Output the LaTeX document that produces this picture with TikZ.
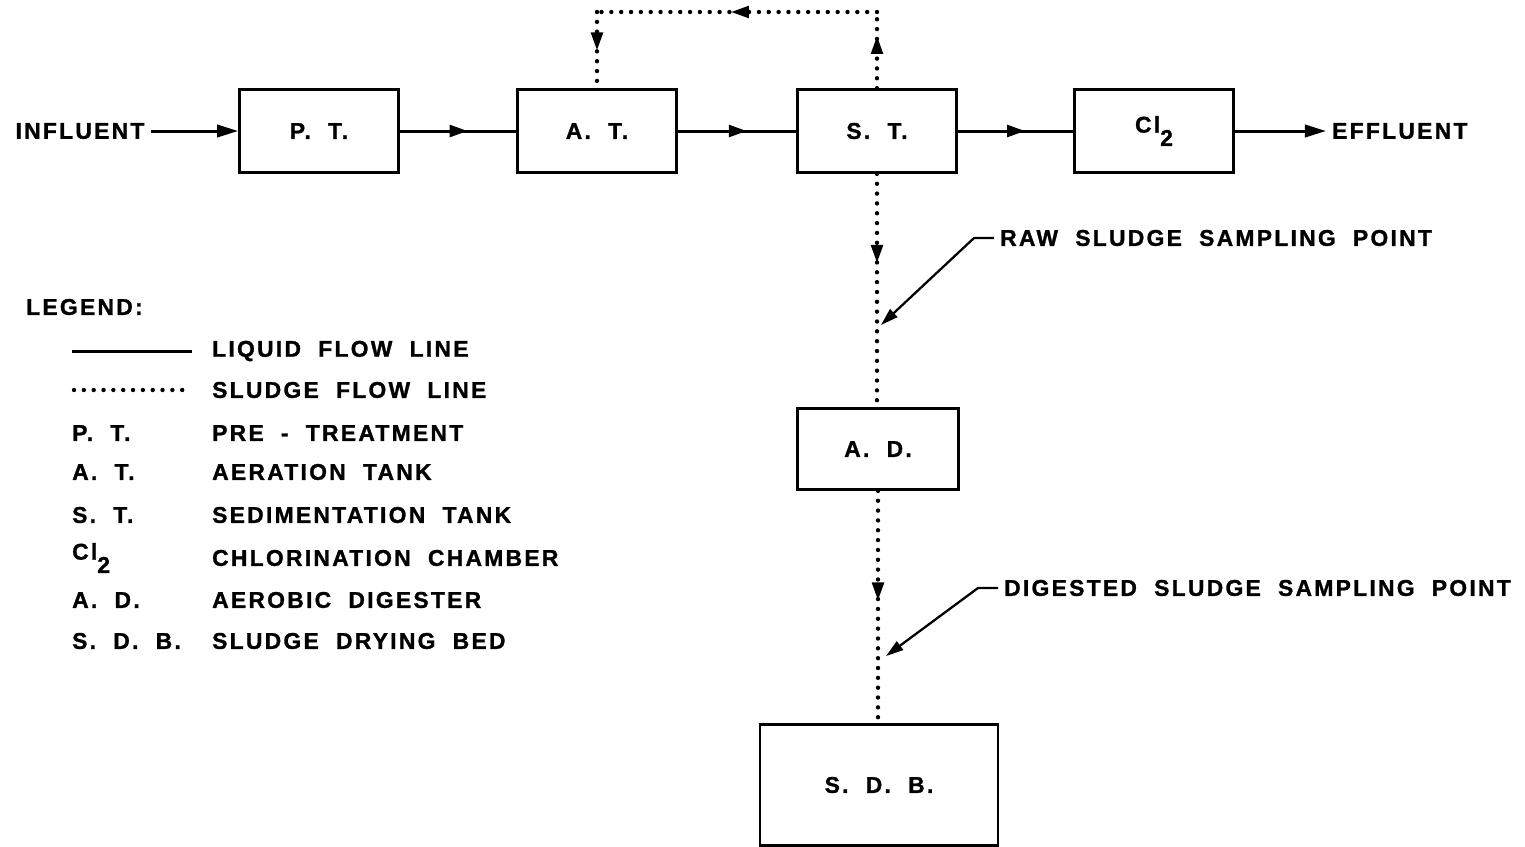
\documentclass[tikz,border=0pt]{standalone}
\usepackage{fontspec}
\setmainfont{Liberation Sans}[LetterSpace=10,WordSpace=2,BoldFeatures={FakeBold=1.2}]
\usetikzlibrary{arrows.meta,decorations.markings,calc}
\newcommand{\chlor}{Cl\raisebox{-1.1ex}{2}}
\tikzset{
  tank/.style={
    draw,
    line width = 1.6pt,
    inner sep = 0pt,
    minimum width = 3.18cm,
    minimum height = 1.66cm
  },
  liquid/.style={
    line width = 1.7pt
  },
  sludge/.style={
    line width = 2.5pt,
    line cap = round,
    dash pattern = on 0pt off 5.6pt
  },
  midarrow/.style={
    postaction={decorate},
    decoration={markings,
      mark=at position #1 with {
        \draw[solid,line width=1.3pt] (-9pt,0) -- (-2pt,0);
        \arrow[solid,line width=0.8pt]{Triangle[length=10pt,width=7pt]}
      }
    }
  },
  every picture/.style = {
    x = 0.02cm,
    y = -0.02cm,
    font = \fontsize{13}{15}\selectfont\bfseries
  }
}

\begin{document}
\begin{tikzpicture}
    \useasboundingbox (0,0) rectangle (1525,846);
    % process line
    \node[tank] (pt) at (319,131) {P. T.};
    \node[tank] (at) at (597,131) {A. T.};
    \node[tank] (st) at (877,131) {S. T.};
    \node[tank] (cl) at (1154,131) {\chlor};
    \node[tank, minimum width=3.22cm, minimum height=1.62cm] (ad) at (878,449) {A. D.};
    \node[tank, minimum width=4.76cm, minimum height=2.42cm] (sdb) at (879,785) {S. D. B.};
    \node (influent) at (80,131) {INFLUENT};
    \node[anchor=west] (effluent) at (1326,131) {EFFLUENT};
    \draw[liquid, -{Triangle[length=12pt,width=7pt]}] (influent.east) -- (pt.west);
    \foreach \a/\b in {pt/at,at/st,st/cl}{
        \draw[liquid, midarrow=0.58] (\a.east) -- (\b.west);
    }
    \draw[liquid, -{Triangle[length=12pt,width=7pt]}] (cl.east) -- (effluent.west);
    % sludge return and waste
    \coordinate (loopR) at (st.north |- 0,12);
    \coordinate (loopL) at (at.north |- 0,12);
    \draw[sludge, midarrow=0.68] (st.north) -- (loopR);
    \draw[sludge, midarrow=0.52] (loopR) -- (loopL);
    \draw[sludge, midarrow=0.5] (loopL) -- (at.north);
    \draw[sludge, midarrow=0.38] (st.south) -- (st.south |- ad.north);
    \draw[sludge, midarrow=0.47] (ad.south) -- (ad.south |- sdb.north);
    % sampling points
    \node[anchor=west] (raw) at (994,238) {RAW SLUDGE SAMPLING POINT};
    \node[anchor=west] (dig) at (998,588) {DIGESTED SLUDGE SAMPLING POINT};
    \coordinate (rawpt) at (881,325);
    \coordinate (digpt) at (886,656);
    \draw[line width=1.3pt, -{Triangle[length=10pt,width=6pt]}] (raw.west) -- ++(-20,0) -- (rawpt);
    \draw[line width=1.3pt, -{Triangle[length=10pt,width=6pt]}] (dig.west) -- ++(-20,0) -- (digpt);
    % legend
    \node[anchor=west] (legend) at (20,307) {LEGEND:};
    \coordinate (liqA) at (72,351);
    \coordinate (liqB) at (192,351);
    \coordinate (slgA) at (74,390);
    \coordinate (slgB) at (190,390);
    \draw[liquid] (liqA) -- (liqB);
    \draw[sludge] (slgA) -- (slgB);
    \node[anchor=west] (liqtxt) at (206,351) {LIQUID FLOW LINE};
    \node[anchor=west] (slgtxt) at (206,390) {SLUDGE FLOW LINE};
    \foreach \y/\ab/\txt in {433/P. T./PRE - TREATMENT,472/A. T./AERATION TANK,515/S. T./SEDIMENTATION TANK,558/\chlor/CHLORINATION CHAMBER,600/A. D./AEROBIC DIGESTER,641/S. D. B./SLUDGE DRYING BED}{
        \node[anchor=west] (ab\y) at (66,\y) {\ab};
        \node[anchor=west] (txt\y) at (206,\y) {\txt};
    }
\end{tikzpicture}
\end{document}
